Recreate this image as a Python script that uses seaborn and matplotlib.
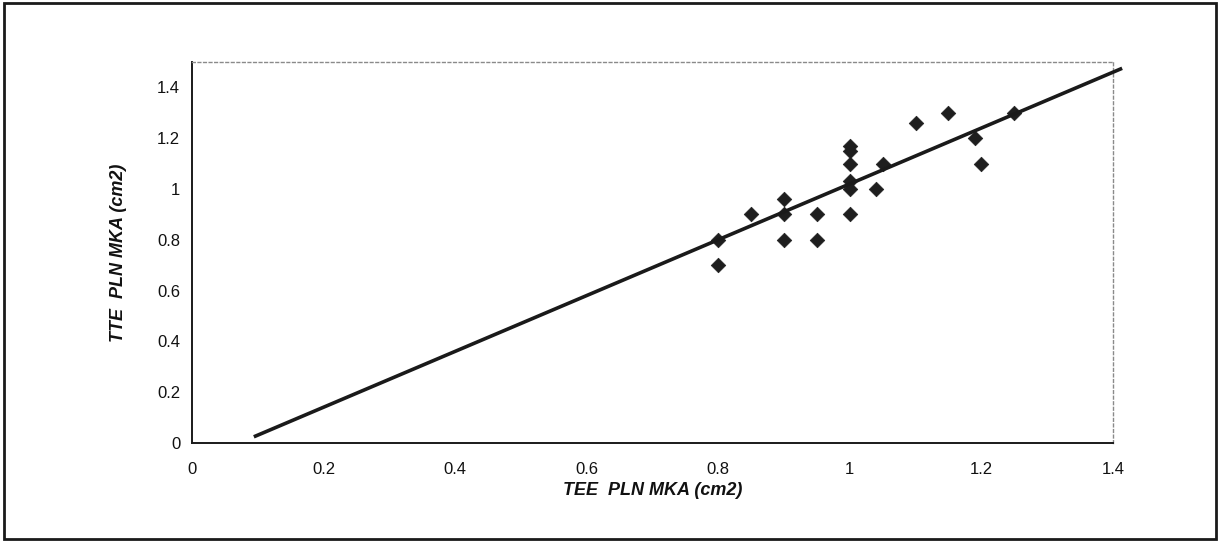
import numpy as np
import pandas as pd
import matplotlib
matplotlib.use("Agg")
import matplotlib.pyplot as plt
from matplotlib.patches import Rectangle
import seaborn as sns

# Paired planimetered mitral valve areas (cm2)
tee_area = [0.80, 0.80, 0.85, 0.90, 0.90, 0.90, 0.95, 0.95,
            1.00, 1.00, 1.00, 1.00, 1.00, 1.00, 1.04, 1.05,
            1.10, 1.15, 1.19, 1.20, 1.25]
tte_area = [0.80, 0.70, 0.90, 0.96, 0.90, 0.80, 0.90, 0.80,
            1.17, 1.15, 1.10, 1.03, 1.00, 0.90, 1.00, 1.10,
            1.26, 1.30, 1.20, 1.10, 1.30]

# Regression line and the x-range it spans
fit_slope = 1.099
fit_intercept = -0.079
fit_span = [0.094, 1.414]

x_ticks = [0, 0.2, 0.4, 0.6, 0.8, 1.0, 1.2, 1.4]
x_tick_labels = ["0", "0.2", "0.4", "0.6", "0.8", "1", "1.2", "1.4"]
y_ticks = [0, 0.2, 0.4, 0.6, 0.8, 1.0, 1.2, 1.4]
y_tick_labels = ["0", "0.2", "0.4", "0.6", "0.8", "1", "1.2", "1.4"]

df = pd.DataFrame({"TEE": tee_area, "TTE": tte_area})

sns.set_theme(style="white")
plt.rcParams["font.family"] = ["Liberation Sans", "DejaVu Sans"]

fig = plt.figure(figsize=(12.23, 5.42), dpi=100)
ax = fig.add_axes([0.157, 0.1827, 0.753, 0.703])

sns.scatterplot(data=df, x="TEE", y="TTE", ax=ax, marker="D", s=55,
                color="#1e1e1e", edgecolor="#1e1e1e", linewidth=0.5, zorder=3)

lx = np.array(fit_span)
ax.plot(lx, fit_slope * lx + fit_intercept, color="#1a1a1a", lw=2.6,
        solid_capstyle="butt", clip_on=False, zorder=4)

ax.set_xlim(0, 1.4)
ax.set_ylim(0, 1.5)
ax.set_xticks(x_ticks)
ax.set_xticklabels(x_tick_labels)
ax.set_yticks(y_ticks)
ax.set_yticklabels(y_tick_labels)
ax.tick_params(axis="both", direction="inout", length=7, width=1.0,
               color="#222222", labelsize=12, labelcolor="#111111", pad=5)
ax.tick_params(axis="x", pad=10)

ax.set_xlabel("TEE  PLN MKA (cm2)", fontsize=13, fontweight="bold",
              fontstyle="italic", color="#111111", labelpad=4)
ax.set_ylabel("TTE  PLN MKA (cm2)", fontsize=13, fontweight="bold",
              fontstyle="italic", color="#111111", labelpad=22)

for side in ["left", "bottom"]:
    ax.spines[side].set_color("#1a1a1a")
    ax.spines[side].set_linewidth(1.4)
for side in ["top", "right"]:
    ax.spines[side].set_color("#8a8a8a")
    ax.spines[side].set_linewidth(1.0)
    ax.spines[side].set_linestyle((0, (2, 2)))
ax.grid(False)

# Frame around the whole chart
fig.patches.append(Rectangle((0.003, 0.005), 0.991, 0.99, transform=fig.transFigure,
                             fill=False, edgecolor="#1a1a1a", linewidth=2.0))

fig.savefig("out.png", dpi=100, facecolor="white")
